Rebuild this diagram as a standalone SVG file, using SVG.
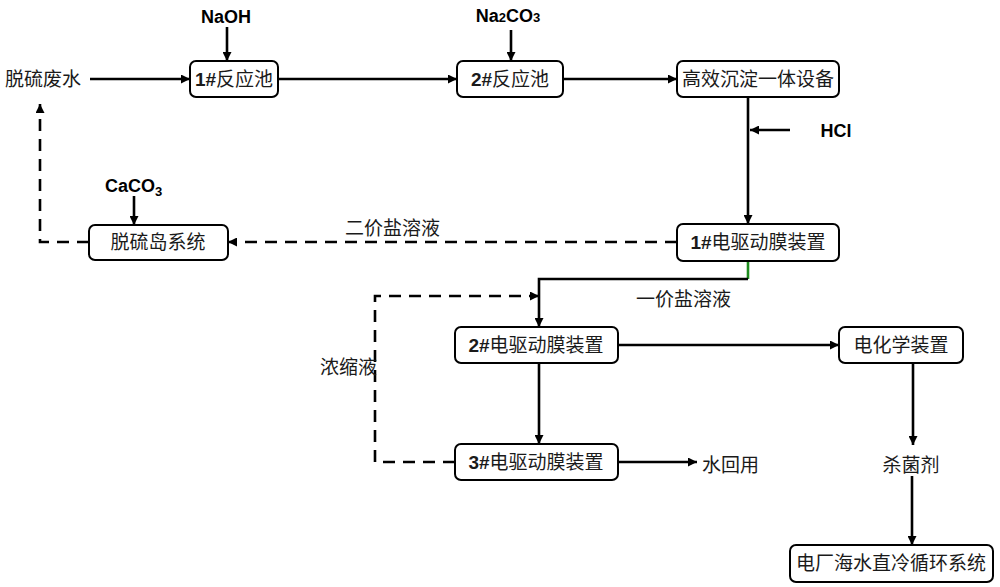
<svg xmlns="http://www.w3.org/2000/svg" width="1000" height="587" viewBox="0 0 1000 587">
<style>
.box{fill:#fff;stroke:#000;stroke-width:2}
.cn{font-family:"Noto Sans CJK SC",sans-serif;font-size:19px;fill:#1a1a1a}
.en{font-family:"Liberation Sans",Arial,sans-serif;font-weight:bold;font-size:18px;fill:#000}
.b{font-family:"Liberation Sans",Arial,sans-serif;font-weight:bold}
.ln{fill:none;stroke:#000;stroke-width:2.6}
.ds{fill:none;stroke:#000;stroke-width:2.6;stroke-dasharray:12,8}
</style>
<defs>
<marker id="ah" viewBox="0 0 10 10" refX="10" refY="5" markerWidth="10" markerHeight="9" markerUnits="userSpaceOnUse" orient="auto">
<path d="M0,0 L10,5 L0,10 z" fill="#000"/>
</marker>
</defs>
<rect width="1000" height="587" fill="#fff"/>
<g id="connectors">
<line class="ln" x1="90" y1="79" x2="190" y2="79" marker-end="url(#ah)"/>
<line class="ln" x1="227" y1="27" x2="227" y2="61" marker-end="url(#ah)"/>
<line class="ln" x1="278" y1="79" x2="457" y2="79" marker-end="url(#ah)"/>
<line class="ln" x1="511" y1="30" x2="511" y2="61" marker-end="url(#ah)"/>
<line class="ln" x1="563" y1="79" x2="677" y2="79" marker-end="url(#ah)"/>
<line class="ln" x1="748" y1="97" x2="748" y2="224" marker-end="url(#ah)"/>
<line class="ln" x1="790" y1="130" x2="750" y2="130" marker-end="url(#ah)"/>
<line class="ln" x1="134" y1="196" x2="134" y2="225" marker-end="url(#ah)"/>
<line class="ds" x1="677" y1="242" x2="228" y2="242" marker-end="url(#ah)"/>
<polyline class="ds" points="89,242 40,242 40,104" marker-end="url(#ah)"/>
<line x1="748" y1="261" x2="748" y2="279" stroke="#1e8c1e" stroke-width="2.6"/>
<polyline class="ln" points="748,279 539,279 539,327" marker-end="url(#ah)"/>
<polyline class="ds" points="455,462 375,462 375,296 539,296" marker-end="url(#ah)"/>
<line class="ln" x1="539" y1="363" x2="539" y2="444" marker-end="url(#ah)"/>
<line class="ln" x1="618" y1="345" x2="839" y2="345" marker-end="url(#ah)"/>
<line class="ln" x1="618" y1="462" x2="697" y2="462" marker-end="url(#ah)"/>
<line class="ln" x1="913" y1="363" x2="913" y2="445" marker-end="url(#ah)"/>
<line class="ln" x1="912" y1="476" x2="912" y2="545" marker-end="url(#ah)"/>
</g>
<g id="n-feed"><text class="cn" x="5" y="86">脱硫废水</text></g>
<g id="n-naoh"><text class="en" x="226" y="23" text-anchor="middle">NaOH</text></g>
<g id="n-na2co3"><text class="en" x="508" y="22" text-anchor="middle">Na<tspan font-size="13">2</tspan>CO<tspan font-size="13">3</tspan></text></g>
<g id="n-hcl"><text class="en" x="836" y="137" text-anchor="middle">HCl</text></g>
<g id="n-caco3"><text class="en" x="105" y="192">CaCO<tspan font-size="13" dy="4">3</tspan></text></g>
<g id="n-r1"><rect class="box" x="190" y="61" width="88" height="36" rx="6"/><text class="cn" x="234" y="86" text-anchor="middle"><tspan class="b">1#</tspan>反应池</text></g>
<g id="n-r2"><rect class="box" x="457" y="61" width="106" height="36" rx="6"/><text class="cn" x="510" y="86" text-anchor="middle"><tspan class="b">2#</tspan>反应池</text></g>
<g id="n-sed"><rect class="box" x="677" y="61" width="162" height="36" rx="6"/><text class="cn" x="758" y="86" text-anchor="middle">高效沉淀一体设备</text></g>
<g id="n-em1"><rect class="box" x="677" y="224" width="162" height="37" rx="6"/><text class="cn" x="758" y="249" text-anchor="middle"><tspan class="b">1#</tspan>电驱动膜装置</text></g>
<g id="n-fgd"><rect class="box" x="89" y="225" width="139" height="35" rx="6"/><text class="cn" x="158" y="249" text-anchor="middle">脱硫岛系统</text></g>
<g id="n-div"><text class="cn" x="345" y="235">二价盐溶液</text></g>
<g id="n-mono"><text class="cn" x="636" y="306">一价盐溶液</text></g>
<g id="n-conc"><text class="cn" x="320" y="374">浓缩液</text></g>
<g id="n-em2"><rect class="box" x="455" y="327" width="163" height="36" rx="6"/><text class="cn" x="536" y="352" text-anchor="middle"><tspan class="b">2#</tspan>电驱动膜装置</text></g>
<g id="n-em3"><rect class="box" x="455" y="444" width="163" height="36" rx="6"/><text class="cn" x="536" y="469" text-anchor="middle"><tspan class="b">3#</tspan>电驱动膜装置</text></g>
<g id="n-reuse"><text class="cn" x="702" y="472">水回用</text></g>
<g id="n-echem"><rect class="box" x="839" y="327" width="124" height="36" rx="6"/><text class="cn" x="901" y="352" text-anchor="middle">电化学装置</text></g>
<g id="n-bio"><text class="cn" x="911" y="472" text-anchor="middle">杀菌剂</text></g>
<g id="n-plant"><rect class="box" x="790" y="545" width="203" height="37" rx="6"/><text class="cn" x="891" y="570" text-anchor="middle">电厂海水直冷循环系统</text></g>
</svg>
